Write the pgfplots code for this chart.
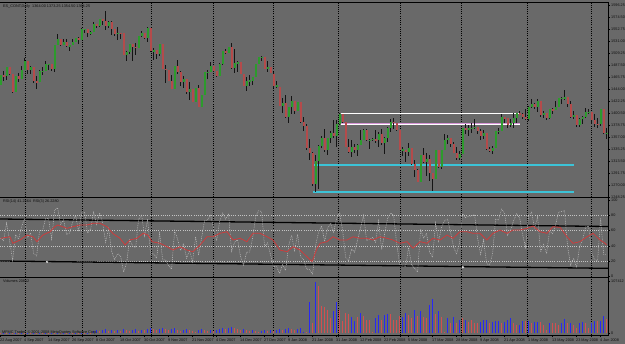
\documentclass[border=0pt]{standalone}
\usepackage{pgfplots}
\pgfplotsset{compat=1.18}
\usepackage{pgfplotstable}
\usepackage{fontspec}
\setmainfont{Liberation Sans}
\definecolor{bg}{RGB}{105,105,105}
\definecolor{bull}{RGB}{45,155,45}
\definecolor{bear}{RGB}{180,75,75}
\definecolor{wick}{RGB}{20,20,20}
\definecolor{volblue}{RGB}{40,40,245}
\definecolor{volred}{RGB}{210,80,80}
\definecolor{rsired}{RGB}{205,60,60}
\definecolor{rsigray}{RGB}{195,195,195}
\definecolor{cyanln}{RGB}{60,195,215}
\definecolor{pinkln}{RGB}{215,150,215}
\definecolor{txt}{RGB}{15,15,15}

\pgfplotstableread{
i o h l c
0 1452 1469 1452 1469
1 1469 1477 1458 1467
2 1467 1484 1460 1484
3 1484 1484 1470 1471
4 1471 1471 1437 1438
5 1438 1468 1438 1468
6 1468 1473 1456 1462
7 1462 1486 1462 1479
8 1479 1501 1478 1495
9 1495 1495 1472 1478
10 1478 1486 1472 1483
11 1483 1483 1454 1459
12 1459 1467 1444 1456
13 1456 1478 1456 1476
14 1476 1484 1469 1476
15 1476 1494 1476 1489
16 1489 1490 1478 1489
17 1489 1489 1476 1481
18 1481 1524 1474 1524
19 1524 1543 1524 1534
20 1534 1534 1522 1524
21 1524 1535 1524 1530
22 1530 1535 1521 1522
23 1522 1523 1512 1523
24 1523 1534 1523 1530
25 1530 1537 1530 1537
26 1537 1538 1526 1532
27 1532 1554 1532 1552
28 1552 1553 1545 1552
29 1552 1552 1539 1545
30 1545 1549 1542 1547
31 1548 1566 1548 1562
32 1562 1562 1554 1558
33 1558 1570 1556 1570
34 1570 1571 1560 1567
35 1567 1585 1551 1559
36 1559 1568 1554 1566
37 1566 1567 1542 1553
38 1553 1553 1540 1544
39 1544 1557 1533 1546
40 1546 1546 1534 1545
41 1545 1545 1505 1506
42 1506 1513 1495 1511
43 1511 1525 1508 1525
44 1525 1525 1494 1520
45 1520 1528 1505 1519
46 1519 1540 1519 1540
47 1540 1549 1538 1546
48 1546 1546 1534 1536
49 1536 1557 1530 1554
50 1554 1554 1511 1513
51 1513 1518 1497 1514
52 1514 1515 1499 1507
53 1507 1526 1504 1526
54 1526 1526 1480 1481
55 1481 1487 1455 1479
56 1479 1479 1458 1458
57 1458 1470 1444 1444
58 1444 1486 1444 1486
59 1486 1497 1471 1475
60 1475 1477 1450 1456
61 1456 1467 1446 1463
62 1463 1463 1435 1438
63 1438 1457 1424 1444
64 1444 1444 1420 1421
65 1421 1445 1421 1445
66 1445 1451 1412 1412
67 1412 1434 1412 1434
68 1434 1474 1434 1474
69 1474 1478 1463 1474
70 1474 1493 1474 1486
71 1486 1486 1475 1477
72 1477 1477 1465 1467
73 1467 1491 1467 1490
74 1490 1513 1488 1513
75 1513 1516 1507 1509
76 1509 1521 1509 1520
77 1520 1528 1481 1482
78 1482 1516 1473 1491
79 1491 1494 1474 1493
80 1493 1493 1472 1472
81 1472 1472 1450 1450
82 1450 1466 1440 1459
83 1459 1469 1450 1459
84 1459 1466 1452 1466
85 1466 1489 1466 1489
86 1489 1502 1489 1502
87 1502 1504 1494 1502
88 1502 1502 1480 1481
89 1481 1494 1475 1483
90 1483 1483 1473 1473
91 1471 1475 1445 1450
92 1450 1459 1446 1450
93 1448 1448 1414 1414
94 1414 1427 1400 1419
95 1419 1434 1392 1393
96 1393 1412 1382 1412
97 1412 1432 1398 1423
98 1423 1423 1398 1405
99 1405 1420 1405 1420
100 1420 1420 1382 1384
101 1384 1394 1367 1377
102 1377 1381 1333 1337
103 1337 1353 1315 1328
104 1328 1330 1268 1272
105 1272 1325 1258 1313
106 1313 1342 1262 1341
107 1341 1358 1337 1355
108 1355 1371 1330 1333
109 1333 1356 1325 1356
110 1356 1367 1347 1365
111 1365 1388 1355 1358
112 1358 1388 1338 1381
113 1381 1400 1378 1398
114 1398 1398 1382 1384
115 1384 1384 1339 1339
116 1339 1354 1328 1329
117 1329 1351 1320 1339
118 1339 1344 1328 1334
119 1334 1344 1323 1342
120 1342 1370 1342 1352
121 1352 1372 1352 1370
122 1370 1371 1350 1351
123 1351 1353 1335 1352
124 1352 1356 1350 1353
125 1353 1370 1347 1351
126 1351 1366 1339 1363
127 1363 1371 1342 1346
128 1346 1357 1327 1356
129 1356 1375 1348 1374
130 1374 1390 1366 1384
131 1384 1391 1371 1383
132 1383 1383 1367 1370
133 1370 1370 1333 1334
134 1334 1338 1323 1334
135 1334 1334 1312 1329
136 1329 1347 1323 1337
137 1337 1337 1307 1308
138 1308 1316 1285 1297
139 1297 1299 1276 1276
140 1276 1324 1276 1324
141 1324 1337 1309 1311
142 1311 1328 1286 1318
143 1318 1324 1277 1291
144 1291 1291 1259 1280
145 1280 1333 1280 1333
146 1333 1334 1301 1302
147 1302 1333 1299 1333
148 1333 1362 1333 1352
149 1352 1360 1344 1356
150 1356 1356 1339 1345
151 1345 1348 1328 1328
152 1328 1338 1315 1319
153 1319 1331 1315 1326
154 1326 1373 1326 1373
155 1373 1381 1363 1370
156 1370 1378 1359 1373
157 1373 1383 1365 1373
158 1373 1389 1372 1376
159 1376 1376 1363 1368
160 1368 1371 1351 1358
161 1358 1370 1354 1364
162 1364 1364 1334 1336
163 1336 1338 1329 1332
164 1332 1340 1327 1337
165 1337 1368 1337 1368
166 1368 1373 1363 1368
167 1368 1398 1368 1393
168 1393 1393 1382 1391
169 1391 1392 1373 1379
170 1379 1390 1375 1383
171 1383 1400 1373 1392
172 1392 1401 1382 1400
173 1400 1405 1397 1399
174 1399 1400 1389 1394
175 1394 1407 1387 1389
176 1389 1413 1386 1412
177 1412 1425 1409 1417
178 1417 1419 1407 1411
179 1411 1425 1403 1422
180 1422 1422 1394 1396
181 1396 1405 1392 1401
182 1401 1401 1387 1392
183 1392 1407 1389 1407
184 1407 1409 1399 1406
185 1406 1423 1406 1412
186 1412 1427 1412 1427
187 1427 1429 1417 1428
188 1428 1443 1424 1429
189 1429 1429 1412 1417
190 1417 1423 1391 1394
191 1394 1404 1390 1397
192 1397 1397 1376 1378
193 1378 1391 1376 1389
194 1389 1395 1381 1393
195 1393 1409 1391 1402
196 1402 1407 1398 1403
197 1403 1403 1380 1388
198 1388 1399 1376 1381
199 1381 1392 1373 1380
200 1380 1408 1377 1407
201 1407 1407 1362 1364
202 1364 1373 1354 1364
}\ohlc

\pgfplotstableread{
i v u
0 830 0
1 1030 1
2 830 0
3 1030 1
4 830 0
5 1030 1
6 830 0
7 1030 1
8 830 0
9 1030 1
10 830 0
11 1030 1
12 830 0
13 1030 1
14 830 0
15 1030 1
16 830 0
17 1030 1
18 830 0
19 1030 1
20 830 0
21 1030 1
22 830 0
23 1030 1
24 830 0
25 1030 1
26 830 0
27 1030 1
28 830 0
29 1030 1
30 830 0
31 4132 1
32 6198 1
33 4132 0
34 6198 1
35 8264 1
36 4132 0
37 6198 1
38 4132 0
39 6198 1
40 4132 0
41 8264 1
42 6198 0
43 4132 0
44 6198 1
45 8264 1
46 4132 0
47 6198 1
48 6100 0
49 8264 1
50 10330 1
51 8264 0
52 6198 0
53 8264 1
54 10330 1
55 8264 0
56 6198 0
57 8264 1
58 10330 1
59 6198 0
60 4132 0
61 6198 1
62 8264 1
63 6198 0
64 4132 0
65 2066 0
66 6198 1
67 8264 1
68 6198 0
69 4132 0
70 6198 1
71 4132 0
72 6198 1
73 8264 1
74 10330 1
75 8264 0
76 10330 1
77 12396 1
78 10330 0
79 8264 0
80 6198 0
81 8264 1
82 6198 0
83 4132 0
84 6198 1
85 4132 0
86 2066 0
87 4132 1
88 6198 1
89 4132 0
90 6198 1
91 4132 0
92 6198 1
93 8264 1
94 6198 0
95 8264 1
96 10330 1
97 8264 0
98 6198 0
99 8264 1
100 10330 1
101 2066 1
102 2066 0
103 64046 1
104 20660 0
105 105366 1
106 97102 0
107 55782 0
108 53716 0
109 47518 0
110 30990 0
111 45452 1
112 64046 1
113 47518 0
114 24792 0
115 41320 0
116 39254 0
117 33056 1
118 24792 1
119 33056 0
120 41320 1
121 35122 0
122 26858 0
123 26858 0
124 2066 0
125 30990 1
126 37188 1
127 26858 0
128 37188 1
129 39254 1
130 39254 0
131 26858 0
132 26858 0
133 35122 0
134 33056 1
135 41320 1
136 37188 0
137 30990 0
138 47518 1
139 35122 0
140 45452 1
141 33056 0
142 30990 0
143 57848 1
144 70244 1
145 39254 0
146 45452 1
147 33056 0
148 2066 0
149 30990 1
150 20660 0
151 33056 1
152 20660 0
153 26858 1
154 30990 0
155 26858 1
156 22726 0
157 26858 0
158 20660 0
159 20660 0
160 22726 1
161 26858 1
162 26858 1
163 20660 0
164 22726 1
165 24792 1
166 24792 1
167 20660 0
168 22726 1
169 26858 1
170 30990 1
171 20660 0
172 16528 0
173 16528 1
174 24792 1
175 24792 0
176 24792 1
177 20660 0
178 22726 1
179 22726 1
180 22726 0
181 16528 0
182 6198 0
183 20660 1
184 20660 0
185 20660 0
186 16528 0
187 20660 1
188 28924 1
189 20660 0
190 20660 1
191 16528 0
192 10330 0
193 20660 1
194 22726 1
195 20660 0
196 10330 0
197 20660 1
198 24792 1
199 24792 0
200 24792 1
201 35122 1
202 28924 0
}\vol

\pgfplotstableread{
i r
0 50
3.1 52
4.1 43.5
6.5 47.8
8.8 54.3
10.8 52
12.1 45.6
14.1 54.3
16.5 58.6
18 65
19.1 67.4
22.1 63
24.1 65.1
26.5 67.4
28.8 67.4
30.8 69.6
33.1 69.6
35.5 65.1
37.5 56
39.8 50
41.5 41.3
43.1 47.8
45.5 50
47.5 56.5
49.1 54.3
50.5 45.6
53.1 43.5
55.5 39
57.5 34.7
59.8 39
62.1 34.7
64.1 32.5
66.5 41.3
68.8 52
70.8 52
73.1 56.5
75.5 58.6
77.5 47.8
79.8 50
82.1 45.6
84.1 56.5
86.5 56.5
88.8 52
90.8 47.8
93.1 34.7
95.5 32.5
97.5 39
99.8 34.7
102.1 26
103.8 19.5
105.5 37
106.5 43.5
108.8 45.6
110.8 52
113.1 47.8
115.5 47.8
117.5 52
119.8 50
122.1 50
124.1 47.8
126.5 52
128.8 50
130.8 47.8
133.1 43.5
135.5 45.6
137.5 37
139.8 45.6
142.1 43.5
144.1 50
146.5 47.8
148.8 54.3
150.8 50
153.1 58.6
155.5 58.6
157.5 56.5
159.8 56.5
162.1 47.8
164.1 56.5
166.5 60.8
168.8 56.5
170.8 60.8
173.1 60.8
175.5 63
177.5 66
179.8 58.6
182.1 56.5
184.1 65.1
186.5 64.3
188.8 52
190.8 43.5
193.1 45.6
195.5 52
197.5 56.5
199.8 47.8
201.5 43.5
202 41.3
}\rsifourteen

\pgfplotstableread{
i r
0 50
1 47
2 70
3 47
4 21
5 55
6 49
7 65
8 76
9 51
10 57
11 30
12 27
13 60
14 60
15 76
16 76
17 49
18 87
19 90
20 68
21 74
22 55
23 57
24 71
25 80
26 59
27 84
28 84
29 57
30 62
31 84
32 68
33 83
34 71
35 45
36 63
37 33
38 22
39 30
40 27
41 6
42 18
43 48
44 40
45 38
46 75
47 80
48 53
49 75
50 29
51 30
52 24
53 57
54 22
55 22
56 14
57 10
58 60
59 49
60 34
61 43
62 24
63 34
64 19
65 52
66 28
67 51
68 73
69 74
70 80
71 63
72 47
73 72
74 83
75 75
76 82
77 33
78 45
79 48
80 26
81 15
82 32
83 32
84 50
85 78
86 86
87 85
88 39
89 44
90 28
91 13
92 13
93 4
94 16
95 8
96 40
97 54
98 34
99 55
100 26
101 22
102 10
103 9
104 3
105 41
106 58
107 66
108 46
109 63
110 69
111 58
112 76
113 84
114 60
115 25
116 21
117 36
118 32
119 48
120 64
121 80
122 47
123 49
124 51
125 45
126 73
127 35
128 56
129 76
130 83
131 80
132 44
133 16
134 15
135 13
136 38
137 15
138 11
139 6
140 62
141 50
142 56
143 32
144 25
145 70
146 46
147 65
148 73
149 75
150 58
151 38
152 30
153 44
154 82
155 77
156 79
157 79
158 81
159 50
160 29
161 48
162 17
163 15
164 30
165 75
166 74
167 88
168 83
169 54
170 61
171 73
172 82
173 77
174 55
175 38
176 80
177 84
178 63
179 78
180 32
181 42
182 30
183 59
184 56
185 68
186 84
187 85
188 86
189 39
190 15
191 24
192 12
193 39
194 48
195 65
196 66
197 31
198 22
199 21
200 76
201 29
202 29
}\rsithree

\pgfplotsset{
  mt/.style={
    scale only axis, width=608bp,
    xmin=-0.2, xmax=202.47,
    axis line style={draw=none},
    ytick pos=right, yticklabel pos=right,
    tick align=outside, major tick length=2bp,
    tick style={draw=black, line width=0.4bp},
    yticklabel style={font=\fontsize{3.8}{4}\selectfont, text=txt, anchor=west, inner sep=0.5bp, xshift=0.5bp},
    major grid style={draw=black, line width=0.5bp, dash pattern=on 1bp off 1.2bp},
    clip=true,
  },
  gridx/.style={xtick={8.1,27.1,50.1,70.8,90.8,112.5,133.1,153.5,175.5,196.8}, xticklabels={}, xmajorgrids, xtick style={draw=none}},
}

\newcommand{\lbl}{\fontsize{3.8}{4}\selectfont}

\begin{document}
\begin{tikzpicture}
\useasboundingbox (0,0) rectangle (625bp,-344bp);
\fill[bg] (0,0) rectangle (625bp,-344bp);

% ---------------- price pane ----------------
\begin{axis}[mt, gridx, at={(0bp,-3bp)}, anchor=north west, height=194bp,
  ymin=1248.25, ymax=1599.875,
  ytick={1596.25,1574.5,1552.75,1531,1509.25,1487.5,1465.75,1444,1422.25,1400.5,1378.75,1357,1335.25,1313.5,1291.75,1270,1248.25},
  yticklabels={1596.25,1574.50,1552.75,1531.00,1509.25,1487.50,1465.75,1444.00,1422.25,1400.50,1378.75,1357.00,1335.25,1313.50,1291.75,1270.00,1248.25},
]
% horizontal objects
\addplot[draw=pinkln, line width=1.4bp, forget plot] coordinates {(113.4,1400.1) (173.1,1400.1)};
\addplot[draw=white, line width=0.6bp, forget plot] coordinates {(113.4,1400.1) (173.1,1400.1)};
\addplot[draw=pinkln, line width=1.4bp, forget plot] coordinates {(113.4,1380.6) (173.1,1380.6)};
\addplot[draw=white, line width=0.6bp, forget plot] coordinates {(113.4,1380.6) (173.1,1380.6)};
\addplot[draw=cyanln, line width=2bp, forget plot] coordinates {(104.1,1305.7) (191.1,1305.7)};
\addplot[draw=cyanln, line width=2bp, forget plot] coordinates {(104.3,1257.9) (191.1,1257.9)};
% wicks
\addplot[draw=none, mark=none, forget plot,
  error bars/.cd, y dir=both, y explicit, error mark=none,
  error bar style={draw=wick, line width=0.7bp}]
  table[x=i, y expr={(\thisrow{h}+\thisrow{l})/2}, y error expr={(\thisrow{h}-\thisrow{l})/2}] {\ohlc};
% bull bodies
\addplot[draw=none, mark=none, forget plot, restrict y to domain=1000:2000,
  error bars/.cd, y dir=both, y explicit, error mark=none,
  error bar style={draw=bull, line width=2bp}]
  table[x=i, y expr={ifthenelse(\thisrow{c}>=\thisrow{o},(\thisrow{o}+\thisrow{c})/2,-5000)}, y error expr={max(abs(\thisrow{c}-\thisrow{o})/2,0.45)}] {\ohlc};
% bear bodies
\addplot[draw=none, mark=none, forget plot, restrict y to domain=1000:2000,
  error bars/.cd, y dir=both, y explicit, error mark=none,
  error bar style={draw=bear, line width=2bp}]
  table[x=i, y expr={ifthenelse(\thisrow{c}<\thisrow{o},(\thisrow{o}+\thisrow{c})/2,-5000)}, y error expr={max(abs(\thisrow{c}-\thisrow{o})/2,0.45)}] {\ohlc};
\end{axis}

% ---------------- RSI pane ----------------
\begin{axis}[mt, gridx, at={(0bp,-198bp)}, anchor=north west, height=79bp,
  ymin=-0.52, ymax=102.61,
  ytick={0,20,40,60,80,100}, yticklabels={0,20,40,60,80,100},
]
\addplot[draw=rsigray, line width=0.5bp, dash pattern=on 1bp off 1.2bp, forget plot] coordinates {(-0.2,80) (202.47,80)};
\addplot[draw=rsigray, line width=0.5bp, dash pattern=on 1bp off 1.2bp, forget plot] coordinates {(-0.2,60) (202.47,60)};
\addplot[draw=rsigray, line width=0.5bp, dash pattern=on 1bp off 1.2bp, forget plot] coordinates {(-0.2,40) (202.47,40)};
\addplot[draw=rsigray, line width=0.5bp, dash pattern=on 1bp off 1.2bp, forget plot] coordinates {(-0.2,20) (202.47,20)};
\addplot[draw=black, line width=1.3bp, forget plot] coordinates {(-0.2,75.2) (202.47,65.4)};
\addplot[draw=black, line width=1.3bp, forget plot] coordinates {(-0.2,20.4) (202.47,10.8)};
\addplot[only marks, mark=o, mark size=0.9bp, mark options={draw=white, line width=0.4bp}, forget plot] coordinates {(15.5,19.3) (154.1,12.2)};
\addplot[draw=rsigray, line width=0.5bp, dash pattern=on 0.8bp off 1bp, forget plot] table[x=i, y=r] {\rsithree};
\addplot[draw=rsired, line width=0.8bp, forget plot] table[x=i, y=r] {\rsifourteen};
\end{axis}

% ---------------- volume pane ----------------
\begin{axis}[mt, at={(0bp,-278bp)}, anchor=north west, height=57bp,
  ymin=-4131, ymax=113609,
  ytick={0,107412}, yticklabels={0,107412},
  xtick={0,8,...,200},
  xticklabels={22 Aug 2007,4 Sep 2007,14 Sep 2007,26 Sep 2007,8 Oct 2007,18 Oct 2007,30 Oct 2007,9 Nov 2007,21 Nov 2007,4 Dec 2007,14 Dec 2007,27 Dec 2007,9 Jan 2008,21 Jan 2008,31 Jan 2008,12 Feb 2008,22 Feb 2008,5 Mar 2008,17 Mar 2008,28 Mar 2008,9 Apr 2008,21 Apr 2008,1 May 2008,13 May 2008,23 May 2008,4 Jun 2008},
  xtick pos=bottom, xticklabel pos=bottom,
  xtick style={draw=black, line width=0.4bp},
  xticklabel style={font=\fontsize{3.8}{4}\selectfont, text=txt, anchor=north west, inner sep=0pt, xshift=-0.6bp, yshift=-1.2bp},
  extra x ticks={8.1,27.1,50.1,70.8,90.8,112.5,133.1,153.5,175.5,196.8},
  extra x tick labels={},
  extra x tick style={grid=major, tick style={draw=none}},
  scaled y ticks=false,
]
\addplot[ycomb, draw=volblue, line width=1.7bp, mark=none, restrict y to domain=0:200000, forget plot]
  table[x=i, y expr={ifthenelse(\thisrow{u}==1,\thisrow{v},-5000)}] {\vol};
\addplot[ycomb, draw=volred, line width=1.7bp, mark=none, restrict y to domain=0:200000, forget plot]
  table[x=i, y expr={ifthenelse(\thisrow{u}==0,\thisrow{v},-5000)}] {\vol};
\end{axis}

% separators and frame
\draw[black, line width=0.8bp] (0,-197.5bp) -- (608.5bp,-197.5bp);
\draw[black, line width=0.8bp] (0,-277.5bp) -- (608.5bp,-277.5bp);
\draw[black, line width=0.8bp] (0,-335.3bp) -- (608.5bp,-335.3bp);
\draw[black, line width=0.8bp] (608.5bp,-2.5bp) -- (608.5bp,-335.3bp);
\draw[black, line width=0.8bp] (0,-2.5bp) -- (608.5bp,-2.5bp);

% titles
\node[anchor=north west, inner sep=0pt, text=txt] at (3bp,-4.5bp) {\lbl ES\_CONT,Daily\ \ 1364.00 1373.25 1354.50 1364.25};
\node[anchor=north west, inner sep=0pt, text=txt] at (3bp,-200bp) {\lbl RSI(14) 41.2364\ \ RSI(3) 26.2280};
\node[anchor=north west, inner sep=0pt, text=txt] at (3bp,-280bp) {\lbl Volumes 20812};
\node[anchor=south west, inner sep=0pt, text=txt] at (2bp,-334bp) {\lbl MFMC Trader, \textcopyright\ 2001-2008 MetaQuotes Software Corp.};
\end{tikzpicture}
\end{document}
